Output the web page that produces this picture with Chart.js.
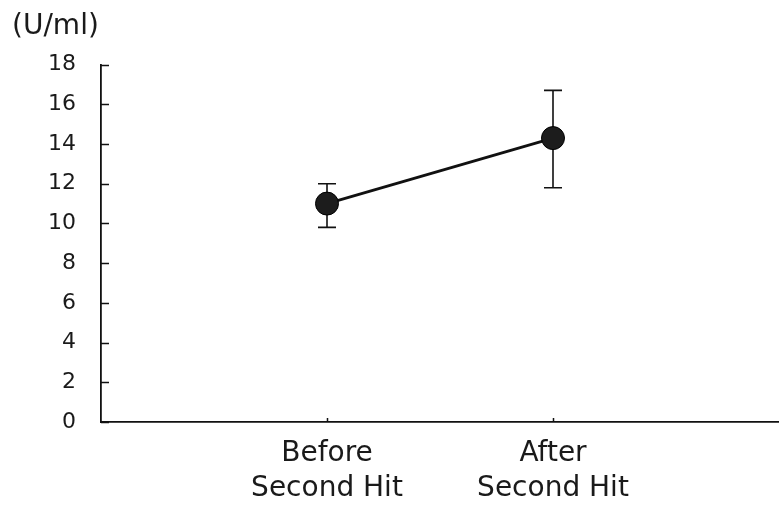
<!DOCTYPE html>
<html>
<head>
<meta charset="utf-8">
<script src="https://cdn.jsdelivr.net/npm/chart.js@4/dist/chart.umd.min.js"></script>
<style>
  html, body { margin: 0; padding: 0; background: #fff; }
  #wrap { width: 779px; height: 506px; }
</style>
</head>
<body>
<div id="wrap"><canvas id="c" width="779" height="506"></canvas></div>
<script>
// Categories (multi-line labels) and their positions on the x scale
const categories = [["Before", "Second Hit"], ["After", "Second Hit"]];
const positions = [1, 2];
// Mean values and error-bar limits (U/ml)
const means = [11.0, 14.3];
const upper = [12.0, 16.7];
const lower = [9.8, 11.8];
// Y tick values
const yTicks = [0, 2, 4, 6, 8, 10, 12, 14, 16, 18];

const FONT = "'DejaVu Sans', sans-serif";
const INK = '#1a1a1a';

// Error bars with caps, drawn beneath the points
const errorBars = {
  id: 'errorBars',
  beforeDatasetsDraw(chart) {
    const { ctx, scales: { x, y } } = chart;
    ctx.save();
    ctx.strokeStyle = '#111';
    ctx.lineWidth = 1.6;
    const cap = 9;
    positions.forEach((p, i) => {
      const px = x.getPixelForValue(p);
      const yt = y.getPixelForValue(upper[i]);
      const yb = y.getPixelForValue(lower[i]);
      ctx.beginPath();
      ctx.moveTo(px, yt); ctx.lineTo(px, yb);
      ctx.moveTo(px - cap, yt); ctx.lineTo(px + cap, yt);
      ctx.moveTo(px - cap, yb); ctx.lineTo(px + cap, yb);
      ctx.stroke();
    });
    ctx.restore();
  }
};

// Inward tick marks on both axes
const innerTicks = {
  id: 'innerTicks',
  afterDraw(chart) {
    const { ctx, scales: { x, y }, chartArea } = chart;
    ctx.save();
    ctx.strokeStyle = '#111';
    ctx.lineWidth = 1.5;
    ctx.beginPath();
    yTicks.forEach(v => {
      const py = Math.round(y.getPixelForValue(v)) + 0.5;
      ctx.moveTo(chartArea.left, py);
      ctx.lineTo(chartArea.left + 8, py);
    });
    positions.forEach(p => {
      const px = Math.round(x.getPixelForValue(p)) + 0.5;
      ctx.moveTo(px, chartArea.bottom);
      ctx.lineTo(px, chartArea.bottom - 4);
    });
    ctx.stroke();
    ctx.restore();
  }
};

new Chart(document.getElementById('c'), {
  type: 'scatter',
  data: {
    datasets: [{
      data: positions.map((p, i) => ({ x: p, y: means[i] })),
      showLine: true,
      borderColor: '#111',
      borderWidth: 2.8,
      backgroundColor: '#1c1c1c',
      pointBackgroundColor: '#1c1c1c',
      pointBorderColor: '#000',
      pointBorderWidth: 1,
      pointRadius: 11.5,
      pointHoverRadius: 11.5
    }]
  },
  options: {
    responsive: false,
    animation: false,
    events: [],
    layout: { autoPadding: false, padding: { left: 12, right: 0, top: 0, bottom: 0 } },
    plugins: {
      legend: { display: false },
      tooltip: { enabled: false },
      title: {
        display: true,
        text: '(U/ml)',
        align: 'start',
        color: INK,
        font: { family: FONT, size: 28, weight: 'normal', lineHeight: 1.2 },
        padding: { top: 10, bottom: 21 }
      }
    },
    scales: {
      x: {
        type: 'linear',
        min: 0,
        max: 3,
        afterBuildTicks(s) { s.ticks = positions.map(v => ({ value: v })); },
        afterFit(s) { s.height = 84; },
        grid: { display: false, drawTicks: false },
        border: { display: true, color: '#111', width: 1.8 },
        ticks: {
          autoSkip: false,
          maxRotation: 0,
          padding: 15,
          color: INK,
          font: { family: FONT, size: 28, lineHeight: 1.22 },
          callback(v) {
            const i = positions.indexOf(v);
            return i >= 0 ? categories[i] : '';
          }
        }
      },
      y: {
        min: 0,
        max: 18,
        afterBuildTicks(s) { s.ticks = yTicks.map(v => ({ value: v })); },
        afterFit(s) { s.width = 89; },
        grid: { display: false, drawTicks: false },
        border: { display: true, color: '#111', width: 1.8 },
        ticks: {
          padding: 25,
          color: INK,
          font: { family: FONT, size: 22 }
        }
      }
    }
  },
  plugins: [errorBars, innerTicks]
});
</script>
</body>
</html>
